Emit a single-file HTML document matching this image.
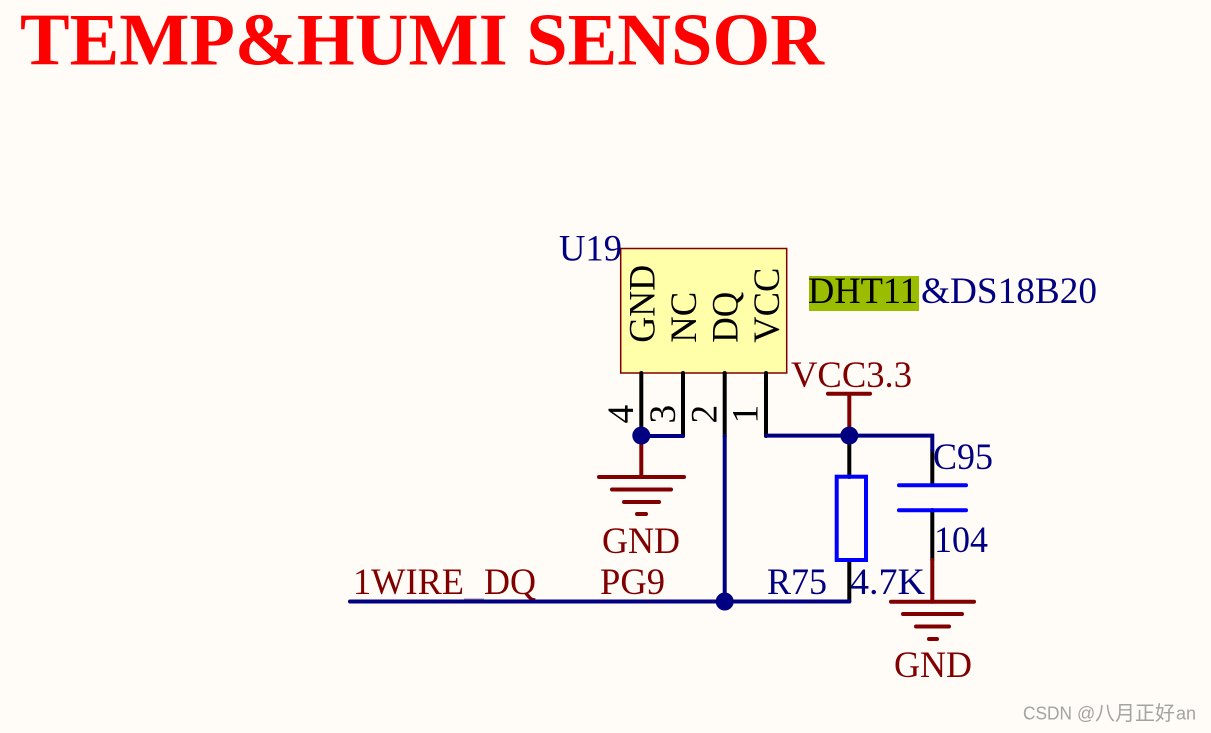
<!DOCTYPE html>
<html>
<head>
<meta charset="utf-8">
<title>TEMP&amp;HUMI SENSOR</title>
<style>
html,body{margin:0;padding:0;background:#fffcf8;}
svg{display:block;}
text{font-family:"Liberation Serif",serif;font-size:37.4px;}
.m{fill:#800000;}
.n{fill:#000080;}
.k{fill:#000;}
.w{fill:none;stroke-width:4;stroke-linecap:round;}
.s{font-family:"Liberation Sans",sans-serif;font-size:18px;fill:#a3a3a1;}
</style>
</head>
<body>
<svg width="1211" height="733" viewBox="0 0 1211 733" xmlns="http://www.w3.org/2000/svg">
<rect width="1211" height="733" fill="#fffcf8"/>
<text x="20" y="64.5" style="font-size:74.5px;font-weight:bold" fill="#ff0000" textLength="804" lengthAdjust="spacingAndGlyphs">TEMP&amp;HUMI SENSOR</text>

<rect x="620.7" y="248.5" width="166" height="124.5" fill="#ffffaa" stroke="#800000" stroke-width="1.5"/>

<text class="n" x="559" y="260.5" textLength="63" lengthAdjust="spacingAndGlyphs">U19</text>
<rect x="809" y="276" width="110" height="35" fill="#9bbd00"/>
<text class="k" x="808" y="303" textLength="110" lengthAdjust="spacingAndGlyphs">DHT11</text>
<text class="n" x="921" y="303" textLength="176" lengthAdjust="spacingAndGlyphs">&amp;DS18B20</text>

<text class="k" transform="translate(654.5 342.7) rotate(-90)" textLength="78" lengthAdjust="spacingAndGlyphs">GND</text>
<text class="k" transform="translate(696 342.7) rotate(-90)" textLength="51" lengthAdjust="spacingAndGlyphs">NC</text>
<text class="k" transform="translate(737.5 342.7) rotate(-90)" textLength="51" lengthAdjust="spacingAndGlyphs">DQ</text>
<text class="k" transform="translate(779 342.7) rotate(-90)" textLength="75" lengthAdjust="spacingAndGlyphs">VCC</text>

<text class="k" transform="translate(633 423.5) rotate(-90)">4</text>
<text class="k" transform="translate(675 423.5) rotate(-90)">3</text>
<text class="k" transform="translate(716.5 423.5) rotate(-90)">2</text>
<text class="k" transform="translate(757.7 423.5) rotate(-90)">1</text>

<text class="m" x="791" y="387" textLength="121" lengthAdjust="spacingAndGlyphs">VCC3.3</text>
<text class="n" x="933" y="469" textLength="60" lengthAdjust="spacingAndGlyphs">C95</text>
<text class="n" x="934" y="552" textLength="54" lengthAdjust="spacingAndGlyphs">104</text>
<text class="m" x="602" y="553" textLength="78" lengthAdjust="spacingAndGlyphs">GND</text>
<text class="m" x="894" y="677" textLength="78" lengthAdjust="spacingAndGlyphs">GND</text>
<text class="m" x="353" y="594" textLength="111" lengthAdjust="spacingAndGlyphs">1WIRE</text>
<text class="m" x="484" y="594" textLength="52" lengthAdjust="spacingAndGlyphs">DQ</text>
<text class="m" x="600" y="594" textLength="65" lengthAdjust="spacingAndGlyphs">PG9</text>
<text class="n" x="767" y="594" textLength="60" lengthAdjust="spacingAndGlyphs">R75</text>
<text class="n" x="850" y="594" textLength="75" lengthAdjust="spacingAndGlyphs">4.7K</text>
<path d="M464 599H484" stroke="#9a8a9a" stroke-width="1" fill="none"/>

<!-- black pin stubs -->
<g class="w" stroke="#000">
<path d="M641.3 373V436"/>
<path d="M683 373V436"/>
<path d="M724.7 373V436"/>
<path d="M766 373V436"/>
<path d="M849.3 436V477"/>
<path d="M849.3 560V601.5"/>
<path d="M932.3 450V485"/>
<path d="M932.3 510V560"/>
</g>

<!-- blue wires -->
<g class="w" stroke="#000080">
<path d="M641.3 436H683"/>
<path d="M766 435.6H932.3V450"/>
<path d="M724.7 436V601.5"/>
<path d="M350 601.5H849.3"/>
</g>

<!-- maroon power ports -->
<g class="w" stroke="#800000">
<path d="M849.3 394V435"/>
<path d="M828 393.7H870"/>
<path d="M641.3 445V477"/>
<path d="M599 477H684"/>
<path d="M612 489.5H671"/>
<path d="M624 502H659"/>
<path d="M637 514H646"/>
<path d="M932.3 560V601.7"/>
<path d="M891 601.7H974"/>
<path d="M903 614H962"/>
<path d="M916 626.5H949"/>
<path d="M929 639H937"/>
</g>

<!-- resistor and capacitor -->
<rect x="836.7" y="476.7" width="29.3" height="83.3" fill="none" stroke="#0000ff" stroke-width="4"/>
<g class="w" stroke="#0000ff">
<path d="M899 485.3H966"/>
<path d="M899 510.3H966"/>
</g>

<!-- junctions -->
<g fill="#000080">
<circle cx="641.3" cy="435.6" r="9"/>
<circle cx="849.3" cy="435.6" r="9"/>
<circle cx="724.7" cy="601.5" r="9"/>
</g>

<text class="s" x="1023" y="719.5" textLength="49" lengthAdjust="spacingAndGlyphs">CSDN</text>
<text class="s" x="1077" y="719.5">@</text>
<text class="s" x="1095" y="720" style="font-family:'Liberation Sans','Noto Sans CJK SC',sans-serif;font-size:20px">八月正好</text>
<text class="s" x="1176" y="719.5">an</text>
</svg>
</body>
</html>
